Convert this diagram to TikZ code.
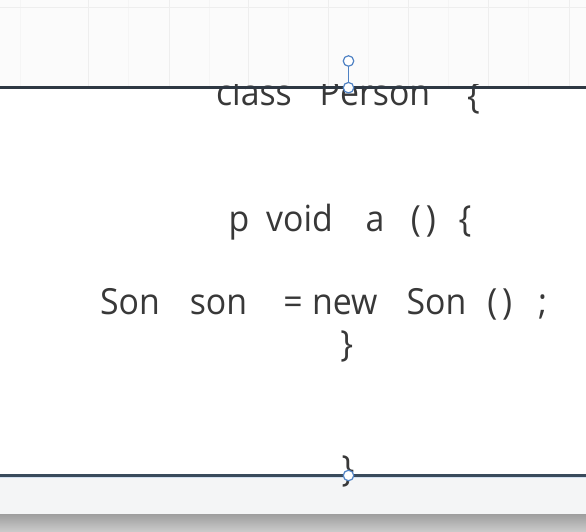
\documentclass[tikz,border=0pt]{standalone}
\usepackage{fontspec}
\setmainfont{Open Sans}[FakeStretch=0.94]
\definecolor{ink}{HTML}{383838}
\definecolor{rule}{HTML}{2E3843}
\definecolor{ruleb}{HTML}{3A4B5C}
\definecolor{handle}{HTML}{4F82C4}
\definecolor{gridc}{HTML}{EEEEEE}
\definecolor{topbg}{HTML}{FBFBFB}
\definecolor{lowbg}{HTML}{F4F5F6}
\begin{document}
\begin{tikzpicture}[x=1pt,y=-1pt,
  tok/.style={anchor=base,inner sep=0pt,outer sep=0pt,text=ink,font=\fontsize{36}{42}\selectfont},
  brace/.style={anchor=center,inner sep=0pt,outer sep=0pt,text=ink,font=\fontsize{36}{42}\selectfont},
  knob/.style={circle,draw=handle,fill=white,line width=1.2pt,minimum size=10.5pt,inner sep=0pt}]
\useasboundingbox (0,0) rectangle (586,532);
% backgrounds
\fill[topbg] (0,0) rectangle (586,88);
\fill[white] (0,88) rectangle (586,476);
\fill[lowbg] (0,476) rectangle (586,514);
\shade[top color=black!38,bottom color=black!20] (0,514) rectangle (586,532);
% faint grid in the top strip
\foreach \gx in {88,169,248,328,408,488,569}
  \draw[gridc,line width=0.8pt] (\gx,0) -- (\gx,86);
\foreach \gx in {20,128,209,288,368,448,528}
  \draw[gridc!60,line width=0.6pt] (\gx,0) -- (\gx,86);
\draw[gridc,line width=0.8pt] (0,7.5) -- (586,7.5);
% first line, clipped by the box edge
\begin{scope}
  \clip (0,84.5) rectangle (586,140);
  \node[tok] (t1) at (254,105.5) {class};
  \node[tok] (t2) at (375,105.5) {Person};
  \node[brace] (t3) at (473.5,98) {\{};
\end{scope}
% second line
\node[tok] (m1) at (239,231) {p};
\node[tok] (m2) at (299.5,231) {void};
\node[tok] (m3) at (375,231) {a};
\node[tok] (m4) at (416,231) {(};
\node[tok] (m5) at (431,231) {)};
\node[tok] (m6) at (465,231) {\{};
% third line
\node[tok] (s1) at (130,314.5) {Son};
\node[tok] (s2) at (218.5,314.5) {son};
\node[tok] (s3) at (293,314.5) {=};
\node[tok] (s4) at (344.7,314.5) {new};
\node[tok] (s5) at (436.5,314.5) {Son};
\node[tok] (s6) at (492.5,314.5) {(};
\node[tok] (s7) at (507,314.5) {)};
\node[tok] (s8) at (542.5,314.5) {;};
% closing braces
\node[brace] (c1) at (346.7,346) {\}};
\node[brace] (c2) at (348,471) {\}};
% box edges
\coordinate (tl) at (0,87.7);
\coordinate (tr) at (586,87.7);
\coordinate (bl) at (0,475.5);
\coordinate (br) at (586,475.5);
\draw[rule,line width=2.4pt] (tl) -- (tr);
\draw[handle!25,line width=1pt] (0,477.3) -- (586,477.3);
\draw[ruleb,line width=2.2pt] (bl) -- (br);
% selection handles
\node[knob] (h1) at (348.5,61) {};
\node[knob] (h2) at (348.5,87.7) {};
\node[knob] (h3) at (348.5,475.5) {};
\draw[handle,line width=1.2pt] (h1) -- (h2);
\end{tikzpicture}
\end{document}
